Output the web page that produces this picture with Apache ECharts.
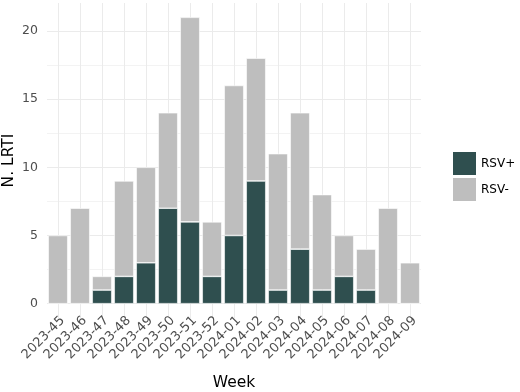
<!DOCTYPE html>
<html>
<head>
<meta charset="utf-8">
<script src="https://cdn.jsdelivr.net/npm/echarts@6/dist/echarts.min.js"></script>
<style>html,body{margin:0;padding:0;background:#fff;}#c{width:520px;height:392px;}</style>
</head>
<body>
<div id="c"></div>
<script>
const weeks = ['2023-45','2023-46','2023-47','2023-48','2023-49','2023-50','2023-51','2023-52','2024-01','2024-02','2024-03','2024-04','2024-05','2024-06','2024-07','2024-08','2024-09'];
const rsvPos = [0,0,1,2,3,7,6,2,5,9,1,4,1,2,1,0,0];
const rsvNeg = [5,7,1,7,7,7,15,4,11,9,10,10,7,3,3,7,3];
const yMinor = [2.5,7.5,12.5,17.5];

const FONT = 'DejaVu Sans';
const chart = echarts.init(document.getElementById('c'), null, {renderer:'canvas'});
chart.setOption({
  animation: false,
  backgroundColor: '#ffffff',
  textStyle: {fontFamily: FONT},
  grid: {left: 47, width: 374, top: 3, height: 315, containLabel: false, outerBoundsMode: 'none'},
  legend: {
    orient: 'vertical', left: 448, top: 147,
    itemWidth: 23, itemHeight: 23, itemGap: 3,
    icon: 'rect',
    textStyle: {fontFamily: FONT, fontSize: 12, color: '#000'},
    itemStyle: {borderWidth: 0},
    data: ['RSV+','RSV-']
  },
  xAxis: {
    type: 'category', data: weeks,
    name: 'Week', nameLocation: 'middle', nameGap: 57,
    nameTextStyle: {fontFamily: FONT, fontSize: 15.5, color: '#000'},
    axisLine: {show: false, onZero: false},
    axisTick: {show: false},
    axisLabel: {rotate: 45, interval: 0, margin: -4, verticalAlign: 'top',
      fontFamily: FONT, fontSize: 13, color: '#4d4d4d'},
    splitLine: {show: true, alignWithLabel: true, lineStyle: {color: '#ebebeb', width: 1}}
  },
  yAxis: {
    type: 'value', min: -1.05, max: 22.05,
    name: 'N. LRTI', nameLocation: 'middle', nameGap: 30, nameMoveOverlap: false,
    nameTextStyle: {fontFamily: FONT, fontSize: 15.5, color: '#000'},
    axisLine: {show: false}, axisTick: {show: false},
    axisLabel: {showMinLabel: false, showMaxLabel: false, margin: 9,
      fontFamily: FONT, fontSize: 12.5, color: '#4d4d4d'},
    splitLine: {show: true, showMinLine: false, showMaxLine: false,
      lineStyle: {color: '#ebebeb', width: 1}}
  },
  series: [
    {
      name: 'RSV+', type: 'bar', stack: 'all', data: rsvPos, barWidth: 19.5,
      itemStyle: {color: '#2F4F4F', borderColor: '#ffffff', borderWidth: 0.6},
      markLine: {
        z: 1, silent: true, symbol: 'none', label: {show: false},
        lineStyle: {color: '#ebebeb', width: 0.6, type: 'solid'},
        data: yMinor.map(v => ({yAxis: v}))
      }
    },
    {
      name: 'RSV-', type: 'bar', stack: 'all', data: rsvNeg, barWidth: 19.5,
      itemStyle: {color: '#BEBEBE', borderColor: '#ffffff', borderWidth: 0.6}
    }
  ]
});
</script>
</body>
</html>
